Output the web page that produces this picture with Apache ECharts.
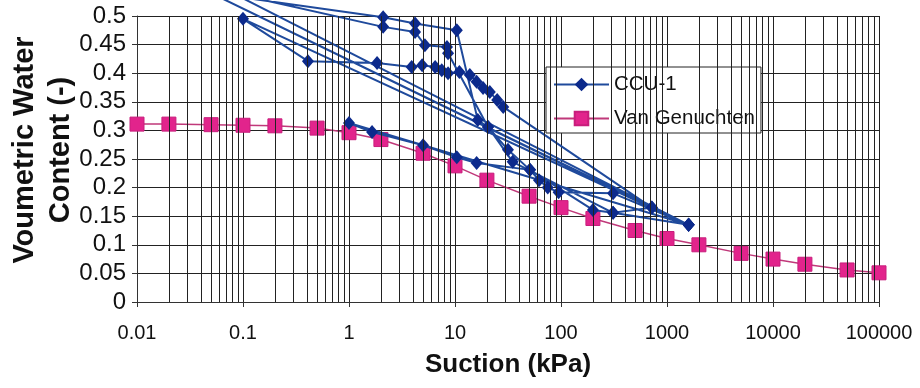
<!DOCTYPE html>
<html>
<head>
<meta charset="utf-8">
<script src="https://cdn.jsdelivr.net/npm/echarts@6/dist/echarts.min.js"></script>
<style>
html, body { margin: 0; padding: 0; background: #fff; }
#main { width: 920px; height: 388px; }
</style>
</head>
<body>
<div id="main"></div>
<script>
// CCU-1 measured points, in test order (a few early points sit above 0.5, off the plot)
var ccuSuction = [0.03, 1600, 0.1, 0.41, 1.84, 3.9, 4.9, 6.5, 7.5, 8.6, 11, 13.8, 16, 18.4, 21.3, 25, 28.5, 720,
    0.05, 2.1, 4.2, 10.4, 16.4, 20.5, 31.6, 51, 62, 75, 95, 310, 1600,
    0.08, 2.1, 4.2, 5.2, 8.4, 8.6, 20.5, 35, 310, 1600,
    1.0, 1.65, 5, 10.4, 16, 51, 200, 310, 720, 1600];
var ccuTheta = [0.56, 0.135, 0.495, 0.421, 0.418, 0.411, 0.414, 0.411, 0.405, 0.400, 0.402, 0.397, 0.385, 0.374, 0.367, 0.353, 0.341, 0.165,
    0.54, 0.498, 0.487, 0.475, 0.318, 0.306, 0.266, 0.231, 0.213, 0.200, 0.192, 0.190, 0.135,
    0.54, 0.481, 0.472, 0.449, 0.446, 0.435, 0.306, 0.245, 0.156, 0.135,
    0.313, 0.297, 0.274, 0.253, 0.243, 0.231, 0.161, 0.156, 0.165, 0.135];

// Van Genuchten fit
var vgSuction = [0.01, 0.02, 0.05, 0.1, 0.2, 0.5, 1, 2, 5, 10, 20, 50, 100, 200, 500, 1000, 2000, 5000, 10000, 20000, 50000, 100000];
var vgTheta = [0.311, 0.311, 0.310, 0.309, 0.308, 0.304, 0.296, 0.284, 0.260, 0.238, 0.213, 0.185, 0.165, 0.146, 0.125, 0.111, 0.100, 0.085, 0.075, 0.066, 0.056, 0.051];

// minor vertical grid lines (2..9 in each decade)
var minorLines = [];
for (var d = -2; d < 5; d++) {
    for (var k = 2; k <= 9; k++) {
        minorLines.push({ xAxis: +(k * Math.pow(10, d)).toPrecision(6) });
    }
}

var myChart = echarts.init(document.getElementById('main'));
var option = {
    backgroundColor: '#fff',
    animation: false,
    textStyle: { fontFamily: 'Liberation Sans, Arial, sans-serif' },
    grid: { left: 137, right: 41, top: 16, bottom: 86, outerBoundsMode: 'none' },
    legend: {
        orient: 'vertical',
        left: 546,
        top: 67,
        itemWidth: 55,
        itemHeight: 17,
        itemGap: 13,
        padding: [7, 6, 4, 7],
        backgroundColor: '#fff',
        borderColor: '#222',
        borderWidth: 1,
        borderRadius: 0,
        textStyle: { fontSize: 20.5, color: '#111' },
        data: ['CCU-1', 'Van Genuchten']
    },
    xAxis: {
        type: 'log',
        logBase: 10,
        min: 0.01,
        max: 100000,
        name: 'Suction (kPa)',
        nameLocation: 'middle',
        nameGap: 50,
        nameMoveOverlap: false,
        nameTextStyle: { fontSize: 26, fontWeight: 'bold', color: '#111' },
        axisLine: { lineStyle: { color: '#333' } },
        axisTick: { show: true, length: 5, lineStyle: { color: '#333' } },
        axisLabel: {
            fontSize: 20, color: '#111', margin: 21,
            formatter: function (v) { return String(+v.toPrecision(6)); }
        },
        splitLine: { show: true, lineStyle: { color: '#222', width: 1 } }
    },
    yAxis: {
        type: 'value',
        min: 0,
        max: 0.5,
        interval: 0.05,
        name: 'Voumetric Water\nContent (-)',
        nameLocation: 'middle',
        nameGap: 58,
        nameMoveOverlap: false,
        nameRotate: 90,
        nameTextStyle: { fontSize: 29, fontWeight: 'bold', color: '#111', lineHeight: 36, padding: [0, 0, 0, 18] },
        axisLine: { show: true, lineStyle: { color: '#333' } },
        axisTick: { show: true, length: 5, lineStyle: { color: '#333' } },
        axisLabel: { fontSize: 24, color: '#111', margin: 11 },
        splitLine: { show: true, lineStyle: { color: '#222', width: 1 } }
    },
    series: [{
        name: 'grid-minor',
        type: 'line',
        data: [],
        silent: true,
        z: 1,
        markLine: {
            silent: true,
            symbol: ['none', 'none'],
            label: { show: false },
            lineStyle: { color: '#222', width: 1, type: 'solid' },
            data: minorLines
        }
    }, {
        name: 'Van Genuchten',
        type: 'line',
        z: 3,
        data: vgSuction.map(function (s, i) { return [s, vgTheta[i]]; }),
        symbol: 'rect',
        symbolSize: 14,
        lineStyle: { color: '#c0397a', width: 1.5 },
        itemStyle: { color: '#e2248c', borderColor: '#c81e7c', borderWidth: 1 }
    }, {
        name: 'CCU-1',
        type: 'line',
        z: 4,
        clip: false,
        data: ccuSuction.map(function (s, i) { return [s, ccuTheta[i]]; }),
        symbol: 'diamond',
        symbolSize: [12, 14],
        lineStyle: { color: '#1f4a9c', width: 2 },
        itemStyle: { color: '#0c2a8c' }
    }]
};
myChart.setOption(option);
</script>
</body>
</html>
